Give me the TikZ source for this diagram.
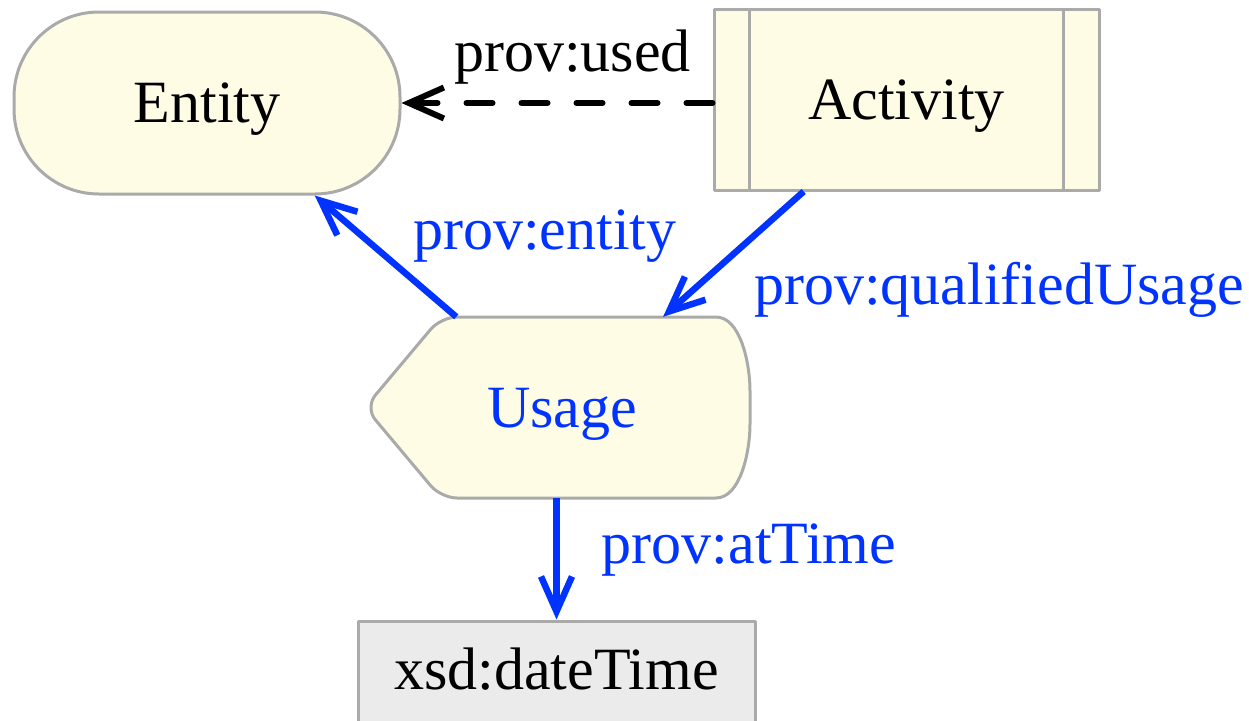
\documentclass[tikz,border=0pt]{standalone}
\usepackage{fontspec}
\setmainfont{Liberation Serif}
\usepackage{tikz}
\usetikzlibrary{arrows.meta}
\definecolor{provyellow}{RGB}{255,252,230}
\definecolor{provgray}{RGB}{170,170,170}
\definecolor{provblue}{RGB}{0,51,255}
\definecolor{xsdgray}{RGB}{235,235,235}
\newcommand{\diagfont}{\fontsize{60}{72}\selectfont}
\tikzset{>={Straight Barb[length=35pt,width=31pt,sharp]}}
\tikzset{
  provbox/.style={draw=provgray,line width=3pt,fill=provyellow,font=\diagfont,text depth=0pt},
  entitybox/.style={provbox,rectangle,rounded corners=85pt,minimum width=386pt,minimum height=182pt},
  activitybox/.style={provbox,rectangle,minimum width=385pt,minimum height=181pt},
  datebox/.style={draw=provgray,line width=3pt,fill=xsdgray,font=\diagfont,minimum width=397pt,minimum height=104pt,text depth=9pt},
  relarrow/.style={->,line width=6.5pt,color=provblue},
  usedarrow/.style={->,line width=6pt,black,line cap=round,dash pattern=on 26pt off 29pt},
  rellabel/.style={font=\diagfont,inner sep=4pt}
}

\begin{document}
\begin{tikzpicture}[line join=round,x=1pt,y=-1pt]
		\useasboundingbox (0,0) rectangle (1249,720);
		\node[entitybox] (entity) at (207,103) {Entity};
		\node[activitybox] (activity) at (906.5,99.5) {Activity};
		\draw[provgray,line width=3pt] ([xshift=37pt]activity.north west) -- ([xshift=37pt]activity.south west);
		\draw[provgray,line width=3pt] ([xshift=-37pt]activity.north east) -- ([xshift=-37pt]activity.south east);
		\draw[provbox,rounded corners=16pt] (441,317) -- (700,317) .. controls (740,317) and (750,362) .. (750,407.5) .. controls (750,453) and (740,498) .. (700,498) -- (441,498) -- (365,407.5) -- cycle;
		\node[font=\diagfont,text=provblue,text depth=0pt,minimum width=376pt,minimum height=181pt] (usage) at (562,407.5) {Usage};
		\node[datebox] (xsd) at (556.5,673) {xsd:dateTime};
		\draw[usedarrow] (activity.west |- entity.east) -- (entity.east) node[rellabel,pos=0.45,above=12pt] {prov:used};
		\draw[relarrow] (usage) -- (entity) node[rellabel,pos=0.39,anchor=south west,xshift=5pt] {prov:entity};
		\draw[relarrow] (activity) -- (usage) node[rellabel,pos=0.51,anchor=north west,xshift=15pt] {prov:qualifiedUsage};
		\draw[relarrow] (usage.south -| xsd.north) -- (xsd.north) node[rellabel,pos=0.43,right=38pt] {prov:atTime};
		\end{tikzpicture}
\end{document}
